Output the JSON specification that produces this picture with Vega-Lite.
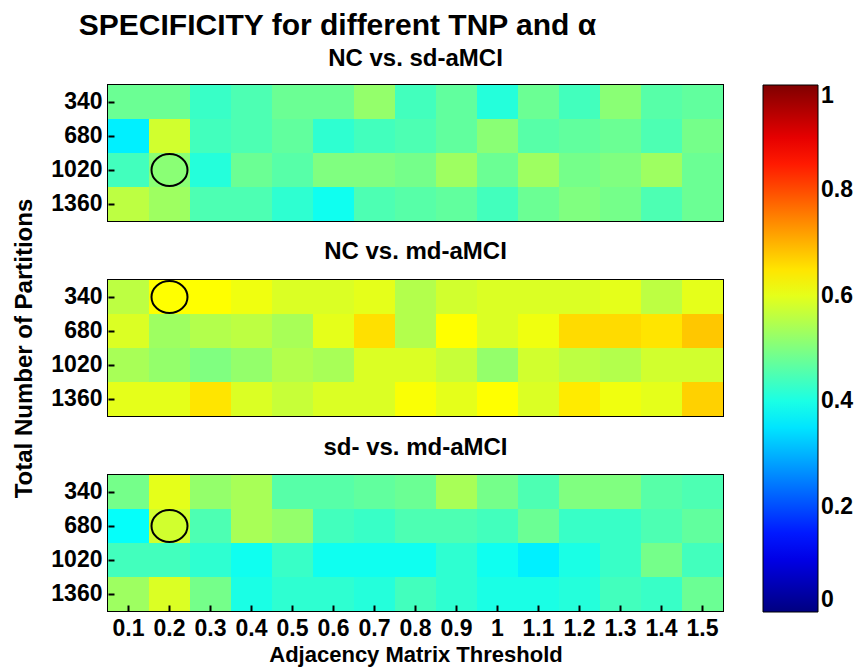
{
  "$schema": "https://vega.github.io/schema/vega-lite/v6.json",
  "background": "white",
  "padding": {"left": 11, "top": 11, "right": 5, "bottom": 5},
  "title": {"text": "SPECIFICITY for different TNP and α", "anchor": "start", "frame": "bounds", "dx": 67, "fontSize": 30, "font": "Liberation Sans", "fontWeight": "bold", "color": "black", "offset": 5},
  "config": {
    "font": "Liberation Sans",
    "view": {"stroke": "black", "strokeWidth": 2},
    "title": {"font": "Liberation Sans", "fontWeight": "bold", "color": "black"},
    "axis": {"labelFont": "Liberation Sans", "labelFontWeight": "bold", "labelFontSize": 23, "labelColor": "black", "titleFont": "Liberation Sans", "titleFontWeight": "bold", "titleFontSize": 22, "titleColor": "black", "domain": false, "tickColor": "black", "tickWidth": 2, "grid": false}
  },
  "datasets": {
    "p1": [
      {"threshold":"0.1","tnp":"340","value":0.48},{"threshold":"0.2","tnp":"340","value":0.48},{"threshold":"0.3","tnp":"340","value":0.43},{"threshold":"0.4","tnp":"340","value":0.45},{"threshold":"0.5","tnp":"340","value":0.48},{"threshold":"0.6","tnp":"340","value":0.48},{"threshold":"0.7","tnp":"340","value":0.52},{"threshold":"0.8","tnp":"340","value":0.44},{"threshold":"0.9","tnp":"340","value":0.47},{"threshold":"1","tnp":"340","value":0.41},{"threshold":"1.1","tnp":"340","value":0.48},{"threshold":"1.2","tnp":"340","value":0.44},{"threshold":"1.3","tnp":"340","value":0.51},{"threshold":"1.4","tnp":"340","value":0.46},{"threshold":"1.5","tnp":"340","value":0.47},
      {"threshold":"0.1","tnp":"680","value":0.36},{"threshold":"0.2","tnp":"680","value":0.58},{"threshold":"0.3","tnp":"680","value":0.44},{"threshold":"0.4","tnp":"680","value":0.45},{"threshold":"0.5","tnp":"680","value":0.47},{"threshold":"0.6","tnp":"680","value":0.42},{"threshold":"0.7","tnp":"680","value":0.44},{"threshold":"0.8","tnp":"680","value":0.45},{"threshold":"0.9","tnp":"680","value":0.47},{"threshold":"1","tnp":"680","value":0.51},{"threshold":"1.1","tnp":"680","value":0.46},{"threshold":"1.2","tnp":"680","value":0.47},{"threshold":"1.3","tnp":"680","value":0.48},{"threshold":"1.4","tnp":"680","value":0.45},{"threshold":"1.5","tnp":"680","value":0.49},
      {"threshold":"0.1","tnp":"1020","value":0.44},{"threshold":"0.2","tnp":"1020","value":0.51},{"threshold":"0.3","tnp":"1020","value":0.41},{"threshold":"0.4","tnp":"1020","value":0.48},{"threshold":"0.5","tnp":"1020","value":0.46},{"threshold":"0.6","tnp":"1020","value":0.5},{"threshold":"0.7","tnp":"1020","value":0.5},{"threshold":"0.8","tnp":"1020","value":0.49},{"threshold":"0.9","tnp":"1020","value":0.53},{"threshold":"1","tnp":"1020","value":0.48},{"threshold":"1.1","tnp":"1020","value":0.53},{"threshold":"1.2","tnp":"1020","value":0.49},{"threshold":"1.3","tnp":"1020","value":0.5},{"threshold":"1.4","tnp":"1020","value":0.53},{"threshold":"1.5","tnp":"1020","value":0.48},
      {"threshold":"0.1","tnp":"1360","value":0.56},{"threshold":"0.2","tnp":"1360","value":0.53},{"threshold":"0.3","tnp":"1360","value":0.45},{"threshold":"0.4","tnp":"1360","value":0.45},{"threshold":"0.5","tnp":"1360","value":0.42},{"threshold":"0.6","tnp":"1360","value":0.39},{"threshold":"0.7","tnp":"1360","value":0.45},{"threshold":"0.8","tnp":"1360","value":0.46},{"threshold":"0.9","tnp":"1360","value":0.47},{"threshold":"1","tnp":"1360","value":0.44},{"threshold":"1.1","tnp":"1360","value":0.48},{"threshold":"1.2","tnp":"1360","value":0.5},{"threshold":"1.3","tnp":"1360","value":0.49},{"threshold":"1.4","tnp":"1360","value":0.45},{"threshold":"1.5","tnp":"1360","value":0.48}
    ],
    "p2": [
      {"threshold":"0.1","tnp":"340","value":0.56},{"threshold":"0.2","tnp":"340","value":0.625},{"threshold":"0.3","tnp":"340","value":0.625},{"threshold":"0.4","tnp":"340","value":0.61},{"threshold":"0.5","tnp":"340","value":0.59},{"threshold":"0.6","tnp":"340","value":0.59},{"threshold":"0.7","tnp":"340","value":0.6},{"threshold":"0.8","tnp":"340","value":0.55},{"threshold":"0.9","tnp":"340","value":0.58},{"threshold":"1","tnp":"340","value":0.59},{"threshold":"1.1","tnp":"340","value":0.59},{"threshold":"1.2","tnp":"340","value":0.59},{"threshold":"1.3","tnp":"340","value":0.6},{"threshold":"1.4","tnp":"340","value":0.56},{"threshold":"1.5","tnp":"340","value":0.6},
      {"threshold":"0.1","tnp":"680","value":0.59},{"threshold":"0.2","tnp":"680","value":0.53},{"threshold":"0.3","tnp":"680","value":0.55},{"threshold":"0.4","tnp":"680","value":0.56},{"threshold":"0.5","tnp":"680","value":0.54},{"threshold":"0.6","tnp":"680","value":0.6},{"threshold":"0.7","tnp":"680","value":0.655},{"threshold":"0.8","tnp":"680","value":0.55},{"threshold":"0.9","tnp":"680","value":0.625},{"threshold":"1","tnp":"680","value":0.59},{"threshold":"1.1","tnp":"680","value":0.61},{"threshold":"1.2","tnp":"680","value":0.66},{"threshold":"1.3","tnp":"680","value":0.66},{"threshold":"1.4","tnp":"680","value":0.65},{"threshold":"1.5","tnp":"680","value":0.68},
      {"threshold":"0.1","tnp":"1020","value":0.54},{"threshold":"0.2","tnp":"1020","value":0.52},{"threshold":"0.3","tnp":"1020","value":0.5},{"threshold":"0.4","tnp":"1020","value":0.52},{"threshold":"0.5","tnp":"1020","value":0.55},{"threshold":"0.6","tnp":"1020","value":0.54},{"threshold":"0.7","tnp":"1020","value":0.59},{"threshold":"0.8","tnp":"1020","value":0.59},{"threshold":"0.9","tnp":"1020","value":0.57},{"threshold":"1","tnp":"1020","value":0.52},{"threshold":"1.1","tnp":"1020","value":0.58},{"threshold":"1.2","tnp":"1020","value":0.56},{"threshold":"1.3","tnp":"1020","value":0.55},{"threshold":"1.4","tnp":"1020","value":0.58},{"threshold":"1.5","tnp":"1020","value":0.58},
      {"threshold":"0.1","tnp":"1360","value":0.6},{"threshold":"0.2","tnp":"1360","value":0.6},{"threshold":"0.3","tnp":"1360","value":0.65},{"threshold":"0.4","tnp":"1360","value":0.59},{"threshold":"0.5","tnp":"1360","value":0.57},{"threshold":"0.6","tnp":"1360","value":0.59},{"threshold":"0.7","tnp":"1360","value":0.59},{"threshold":"0.8","tnp":"1360","value":0.62},{"threshold":"0.9","tnp":"1360","value":0.6},{"threshold":"1","tnp":"1360","value":0.625},{"threshold":"1.1","tnp":"1360","value":0.59},{"threshold":"1.2","tnp":"1360","value":0.645},{"threshold":"1.3","tnp":"1360","value":0.61},{"threshold":"1.4","tnp":"1360","value":0.6},{"threshold":"1.5","tnp":"1360","value":0.67}
    ],
    "p3": [
      {"threshold":"0.1","tnp":"340","value":0.49},{"threshold":"0.2","tnp":"340","value":0.6},{"threshold":"0.3","tnp":"340","value":0.52},{"threshold":"0.4","tnp":"340","value":0.54},{"threshold":"0.5","tnp":"340","value":0.46},{"threshold":"0.6","tnp":"340","value":0.46},{"threshold":"0.7","tnp":"340","value":0.47},{"threshold":"0.8","tnp":"340","value":0.48},{"threshold":"0.9","tnp":"340","value":0.54},{"threshold":"1","tnp":"340","value":0.49},{"threshold":"1.1","tnp":"340","value":0.45},{"threshold":"1.2","tnp":"340","value":0.5},{"threshold":"1.3","tnp":"340","value":0.5},{"threshold":"1.4","tnp":"340","value":0.46},{"threshold":"1.5","tnp":"340","value":0.45},
      {"threshold":"0.1","tnp":"680","value":0.38},{"threshold":"0.2","tnp":"680","value":0.58},{"threshold":"0.3","tnp":"680","value":0.45},{"threshold":"0.4","tnp":"680","value":0.54},{"threshold":"0.5","tnp":"680","value":0.52},{"threshold":"0.6","tnp":"680","value":0.44},{"threshold":"0.7","tnp":"680","value":0.43},{"threshold":"0.8","tnp":"680","value":0.45},{"threshold":"0.9","tnp":"680","value":0.45},{"threshold":"1","tnp":"680","value":0.44},{"threshold":"1.1","tnp":"680","value":0.48},{"threshold":"1.2","tnp":"680","value":0.43},{"threshold":"1.3","tnp":"680","value":0.43},{"threshold":"1.4","tnp":"680","value":0.45},{"threshold":"1.5","tnp":"680","value":0.47},
      {"threshold":"0.1","tnp":"1020","value":0.44},{"threshold":"0.2","tnp":"1020","value":0.44},{"threshold":"0.3","tnp":"1020","value":0.42},{"threshold":"0.4","tnp":"1020","value":0.39},{"threshold":"0.5","tnp":"1020","value":0.43},{"threshold":"0.6","tnp":"1020","value":0.39},{"threshold":"0.7","tnp":"1020","value":0.39},{"threshold":"0.8","tnp":"1020","value":0.39},{"threshold":"0.9","tnp":"1020","value":0.42},{"threshold":"1","tnp":"1020","value":0.39},{"threshold":"1.1","tnp":"1020","value":0.36},{"threshold":"1.2","tnp":"1020","value":0.4},{"threshold":"1.3","tnp":"1020","value":0.43},{"threshold":"1.4","tnp":"1020","value":0.49},{"threshold":"1.5","tnp":"1020","value":0.44},
      {"threshold":"0.1","tnp":"1360","value":0.53},{"threshold":"0.2","tnp":"1360","value":0.59},{"threshold":"0.3","tnp":"1360","value":0.49},{"threshold":"0.4","tnp":"1360","value":0.4},{"threshold":"0.5","tnp":"1360","value":0.42},{"threshold":"0.6","tnp":"1360","value":0.42},{"threshold":"0.7","tnp":"1360","value":0.41},{"threshold":"0.8","tnp":"1360","value":0.44},{"threshold":"0.9","tnp":"1360","value":0.42},{"threshold":"1","tnp":"1360","value":0.4},{"threshold":"1.1","tnp":"1360","value":0.4},{"threshold":"1.2","tnp":"1360","value":0.41},{"threshold":"1.3","tnp":"1360","value":0.44},{"threshold":"1.4","tnp":"1360","value":0.43},{"threshold":"1.5","tnp":"1360","value":0.48}
    ],
    "c1": [{"threshold":"0.2","tnp":"1020"}],
    "c2": [{"threshold":"0.2","tnp":"340"}],
    "c3": [{"threshold":"0.2","tnp":"680"}]
  },
  "bounds": "flush",
  "spacing": 59,
  "resolve": {"scale": {"color": "shared"}},
  "vconcat": [
    {
      "title": {"text": "NC vs. sd-aMCI", "anchor": "middle", "fontSize": 24, "offset": 14},
      "width": 615, "height": 136,
      "layer": [
        {"data": {"name": "p1"}, "mark": {"type": "rect"},
         "encoding": {
           "x": {"field": "threshold", "type": "ordinal", "sort": ["0.1","0.2","0.3","0.4","0.5","0.6","0.7","0.8","0.9","1","1.1","1.2","1.3","1.4","1.5"], "axis": null},
           "y": {"field": "tnp", "type": "ordinal", "sort": ["340","680","1020","1360"], "axis": {"title": null, "tickSize": -6, "labelPadding": 12}},
           "color": {"field": "value", "type": "quantitative", "scale": {"domain": [0, 0.125, 0.375, 0.625, 0.875, 1], "range": ["#000080", "#0000ff", "#00ffff", "#ffff00", "#ff0000", "#800000"], "interpolate": "rgb"},
             "legend": {"title": null, "orient": "none", "legendX": 655, "legendY": 0, "direction": "vertical", "gradientLength": 527, "gradientThickness": 55, "values": [0, 0.2, 0.4, 0.6, 0.8, 1], "format": "~g", "labelFont": "Liberation Sans", "labelFontWeight": "bold", "labelFontSize": 23, "labelColor": "black", "labelBaseline": "middle", "labelOffset": 3, "gradientStrokeColor": "black", "gradientStrokeWidth": 1}}
         }},
        {"data": {"name": "c1"}, "mark": {"type": "point", "shape": "M -1.125 0 A 1.125 1 0 1 0 1.125 0 A 1.125 1 0 1 0 -1.125 0 Z", "filled": false, "stroke": "black", "strokeWidth": 2, "size": 1024, "opacity": 1},
         "encoding": {
           "x": {"field": "threshold", "type": "ordinal", "sort": ["0.1","0.2","0.3","0.4","0.5","0.6","0.7","0.8","0.9","1","1.1","1.2","1.3","1.4","1.5"], "axis": null},
           "y": {"field": "tnp", "type": "ordinal", "sort": ["340","680","1020","1360"], "axis": {"orient": "right", "title": null, "labels": false, "tickSize": -6}}
         }}
      ],
      "resolve": {"axis": {"y": "independent"}}
    },
    {
      "title": {"text": "NC vs. md-aMCI", "anchor": "middle", "fontSize": 24, "offset": 14, "dy": 80},
      "width": 615, "height": 136,
      "layer": [
        {"data": {"name": "p2"}, "mark": {"type": "rect"},
         "encoding": {
           "x": {"field": "threshold", "type": "ordinal", "sort": ["0.1","0.2","0.3","0.4","0.5","0.6","0.7","0.8","0.9","1","1.1","1.2","1.3","1.4","1.5"], "axis": null},
           "y": {"field": "tnp", "type": "ordinal", "sort": ["340","680","1020","1360"], "axis": {"title": "Total Number of Partitions", "titleFontSize": 24, "tickSize": -6, "labelPadding": 12, "titlePadding": 14}},
           "color": {"field": "value", "type": "quantitative"}
         }},
        {"data": {"name": "c2"}, "mark": {"type": "point", "shape": "M -1.125 0 A 1.125 1 0 1 0 1.125 0 A 1.125 1 0 1 0 -1.125 0 Z", "filled": false, "stroke": "black", "strokeWidth": 2, "size": 1024, "opacity": 1},
         "encoding": {
           "x": {"field": "threshold", "type": "ordinal", "sort": ["0.1","0.2","0.3","0.4","0.5","0.6","0.7","0.8","0.9","1","1.1","1.2","1.3","1.4","1.5"], "axis": null},
           "y": {"field": "tnp", "type": "ordinal", "sort": ["340","680","1020","1360"], "axis": {"orient": "right", "title": null, "labels": false, "tickSize": -6}}
         }}
      ],
      "resolve": {"axis": {"y": "independent"}}
    },
    {
      "title": {"text": "sd- vs. md-aMCI", "anchor": "middle", "fontSize": 24, "offset": 14},
      "width": 615, "height": 136,
      "layer": [
        {"data": {"name": "p3"}, "mark": {"type": "rect"},
         "encoding": {
           "x": {"field": "threshold", "type": "ordinal", "sort": ["0.1","0.2","0.3","0.4","0.5","0.6","0.7","0.8","0.9","1","1.1","1.2","1.3","1.4","1.5"], "axis": {"title": "Adjacency Matrix Threshold", "labelAngle": 0, "tickSize": -6, "labelPadding": 12, "titlePadding": 4, "titleFontSize": 22}},
           "y": {"field": "tnp", "type": "ordinal", "sort": ["340","680","1020","1360"], "axis": {"title": null, "tickSize": -6, "labelPadding": 12}},
           "color": {"field": "value", "type": "quantitative"}
         }},
        {"data": {"name": "c3"}, "mark": {"type": "point", "shape": "M -1.125 0 A 1.125 1 0 1 0 1.125 0 A 1.125 1 0 1 0 -1.125 0 Z", "filled": false, "stroke": "black", "strokeWidth": 2, "size": 1024, "opacity": 1},
         "encoding": {
           "x": {"field": "threshold", "type": "ordinal", "sort": ["0.1","0.2","0.3","0.4","0.5","0.6","0.7","0.8","0.9","1","1.1","1.2","1.3","1.4","1.5"], "axis": {"orient": "top", "title": null, "labels": false, "tickSize": -6}},
           "y": {"field": "tnp", "type": "ordinal", "sort": ["340","680","1020","1360"], "axis": {"orient": "right", "title": null, "labels": false, "tickSize": -6}}
         }}
      ],
      "resolve": {"axis": {"x": "independent", "y": "independent"}}
    }
  ]
}
